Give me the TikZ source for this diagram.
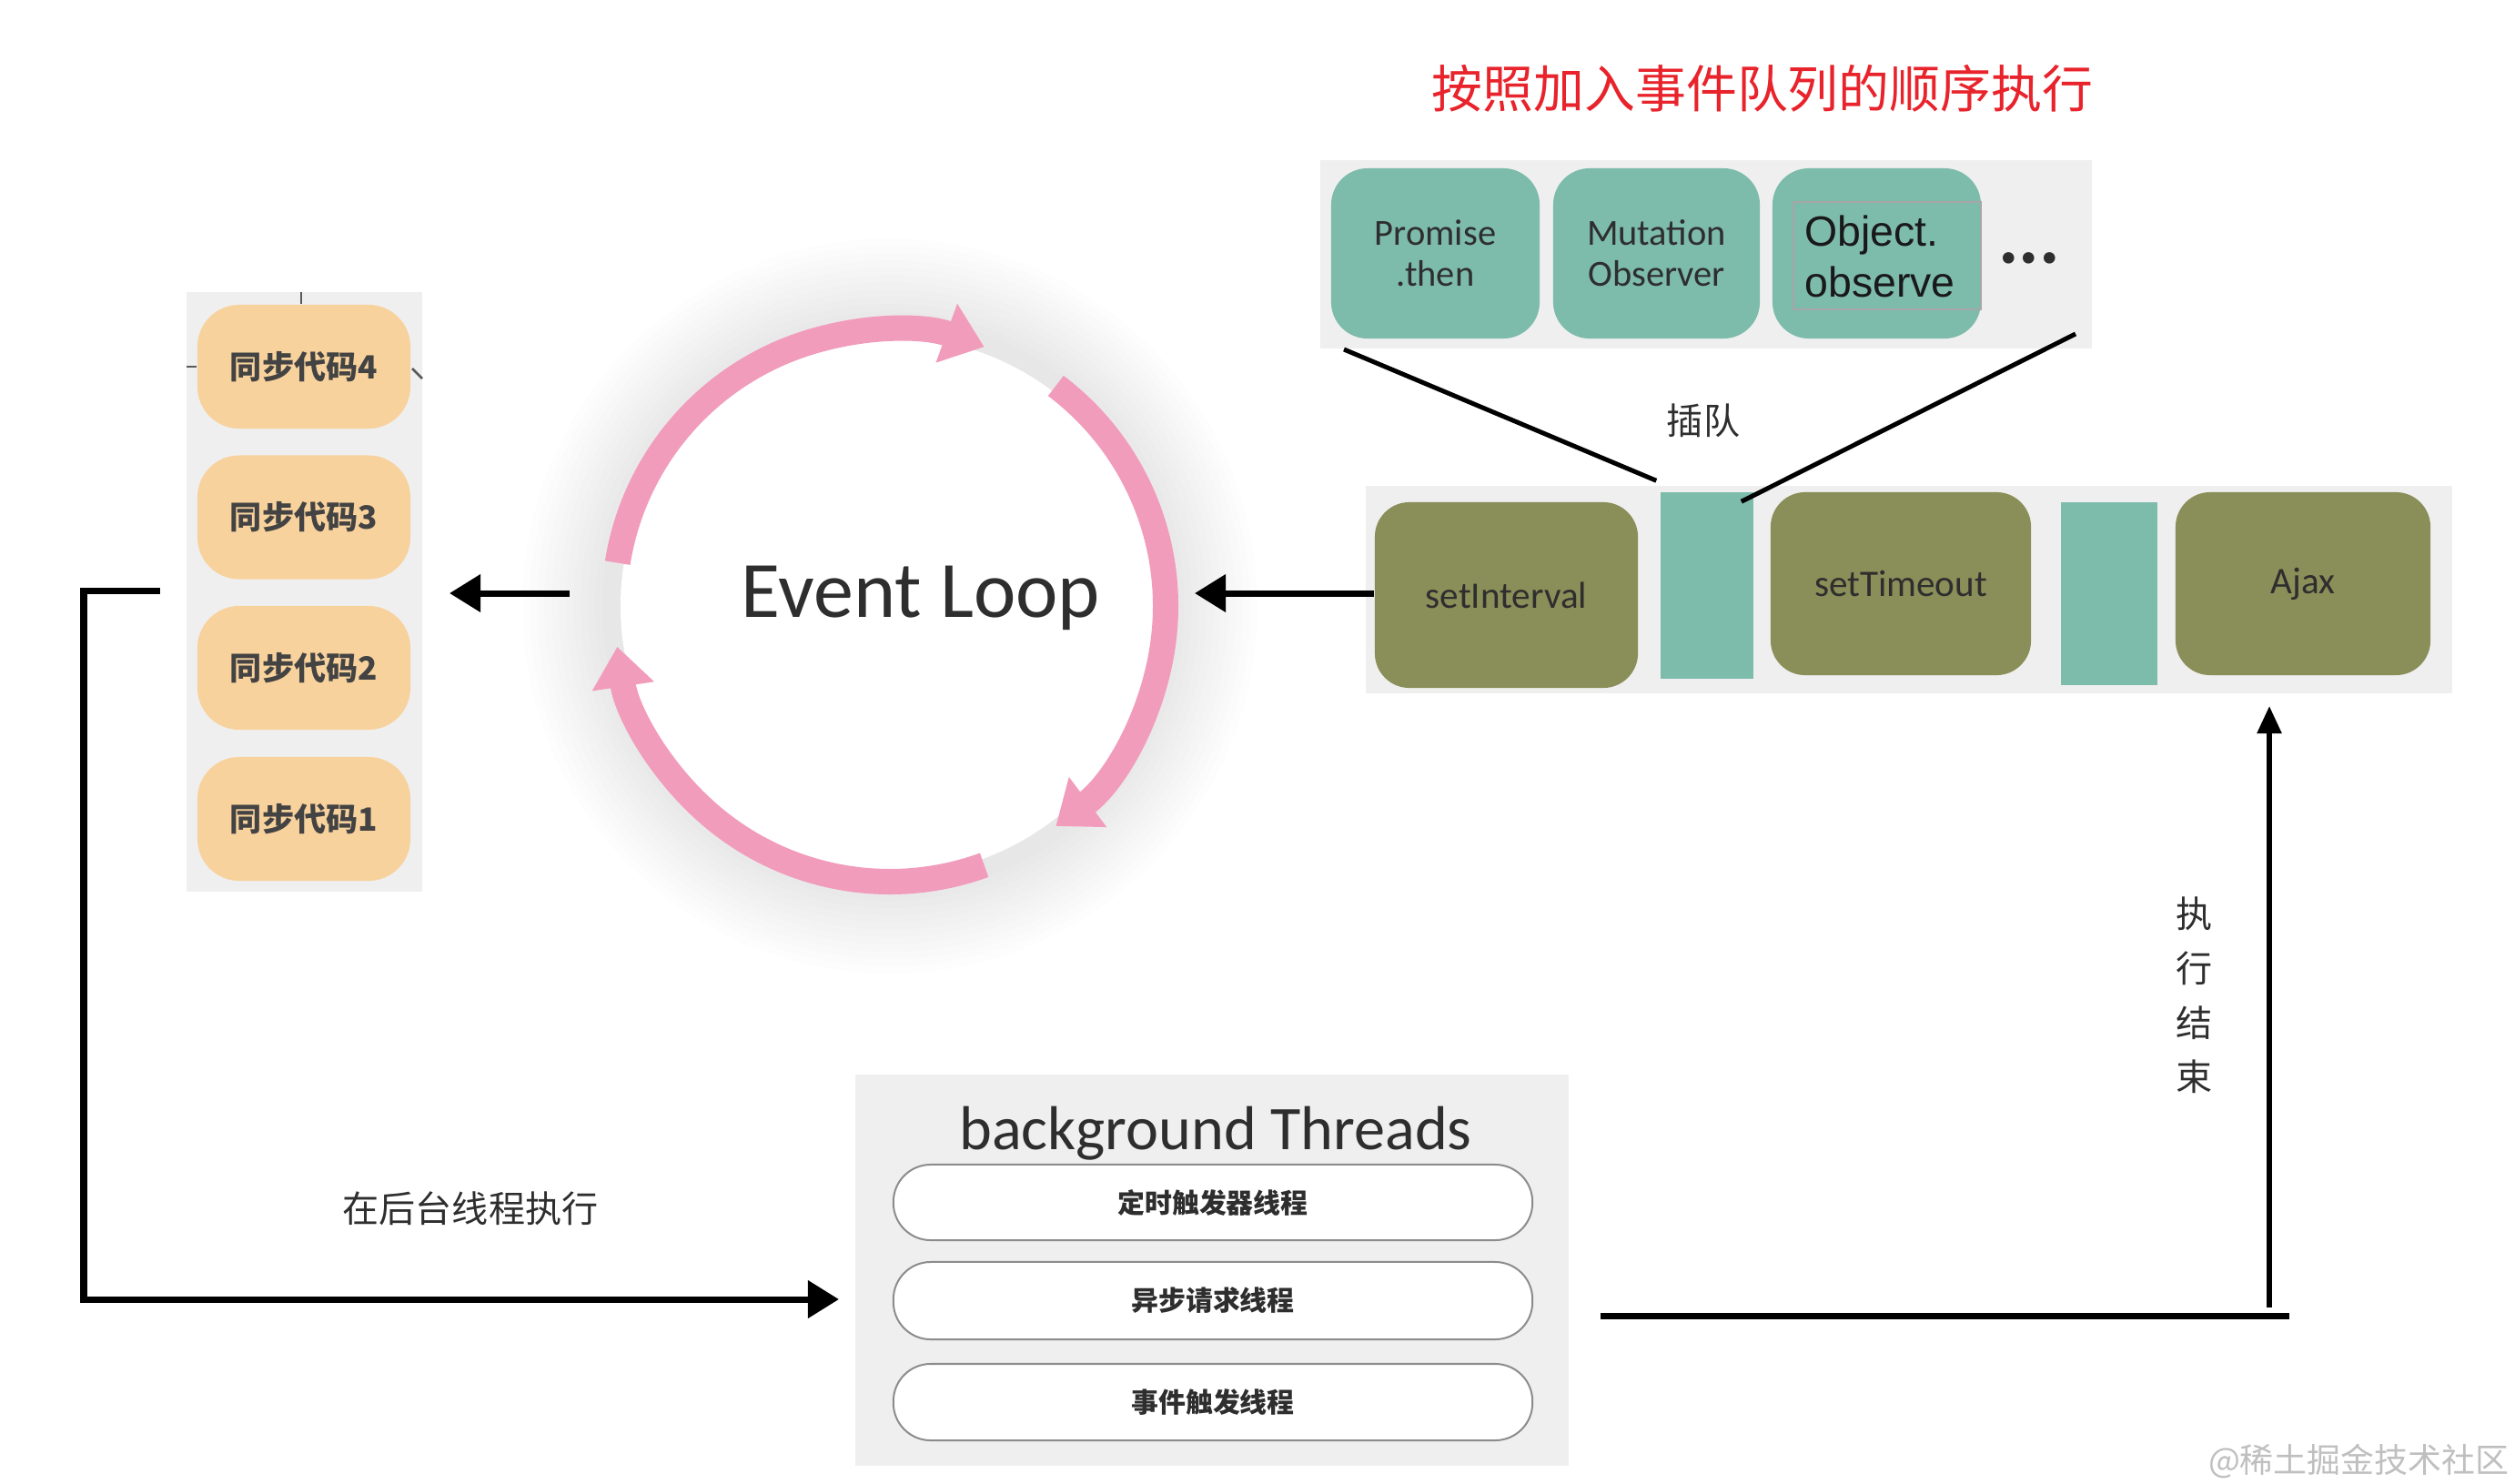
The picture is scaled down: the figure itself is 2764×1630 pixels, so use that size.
\documentclass[tikz,border=0pt]{standalone}
\usepackage{fontspec}
\setmainfont{Carlito}
\newfontfamily\cjk{Noto Sans CJK SC}
\newfontfamily\arialf{Liberation Sans}
\usetikzlibrary{arrows.meta,calc}
\definecolor{tealc}{HTML}{7DBBAB}
\definecolor{olivec}{HTML}{8A8E58}
\definecolor{orangec}{HTML}{F8D29D}
\definecolor{pinkc}{HTML}{F29CBC}
\definecolor{panelc}{HTML}{EFEFEF}
\definecolor{txtc}{HTML}{2E2E2E}
\definecolor{redc}{HTML}{E8232B}
\begin{document}
\begin{tikzpicture}[x=0.01cm,y=-0.01cm,
  panelbg/.style={fill=panelc, draw=none, inner sep=0pt},
  tealbox/.style={fill=tealc, rounded corners=0.4cm, inner sep=0pt, text=txtc, align=center, font=\fontsize{11.5}{12.8}\selectfont},
  slotbox/.style={fill=tealc, inner sep=0pt},
  olivebox/.style={fill=olivec, rounded corners=0.38cm, inner sep=0pt, text=txtc, font=\fontsize{11.7}{14}\selectfont},
  syncbox/.style={fill=orangec, rounded corners=0.46cm, inner sep=0pt, minimum width=2.34cm, minimum height=1.36cm, text=txtc!90, font=\cjk\bfseries\fontsize{10}{12}\selectfont},
  pill/.style={fill=white, draw=black!45, line width=0.02cm, rounded corners=0.41cm, inner sep=0pt, minimum width=7.02cm, text=txtc, font=\cjk\bfseries\fontsize{8.5}{10}\selectfont},
  looparc/.style={draw=pinkc, line width=0.28cm, -{Triangle[width=0.66cm,length=0.44cm]}},
  conn/.style={draw=black, line width=0.07cm, -{Triangle[width=0.40cm,length=0.34cm]}},
  plainline/.style={draw=black, line width=0.06cm},
  label/.style={inner sep=0pt, text=txtc, font=\cjk\fontsize{11.4}{17}\selectfont}
]
\useasboundingbox (0,0) rectangle (2764,1630);
\clip (0,0) rectangle (2764,1630);
\fill[white] (0,0) rectangle (2764,1630);

% ---------- Event loop ----------
\coordinate (c) at (978,666);
\foreach \r in {404,396,...,316} \fill[black,opacity=0.009] (c) circle[radius=\r];
\fill[white] (c) circle[radius=296];
\draw[looparc] ($(c)+(-171:303)$) arc[start angle=-171,end angle=-70,radius=303];
\draw[looparc] ($(c)+(-53:303)$) arc[start angle=-53,end angle=53,radius=303];
\draw[looparc] ($(c)+(70:303)$) arc[start angle=70,end angle=171.5,radius=303];
\node[fill=white, inner sep=0pt, minimum width=4.2cm, minimum height=1.5cm, text=txtc, font=\fontsize{25}{30}\selectfont] (el) at (1012,657) {Event Loop};

% ---------- sync stack ----------
\node[panelbg, minimum width=2.59cm, minimum height=6.59cm] (syncbg) at (334.5,650.5) {};
\node[syncbox] (s4) at (334,403) {同步代码4};
\node[syncbox] (s3) at (334,568.5) {同步代码3};
\node[syncbox] (s2) at (334,734) {同步代码2};
\node[syncbox] (s1) at (334,900) {同步代码1};
\draw[black!65, line width=0.02cm] (331,321) -- (331,334);
\draw[black!65, line width=0.02cm] (205,403) -- (216,403);
\draw[black!65, line width=0.025cm] (453,405) -- (464,416);

% ---------- micro task panel ----------
\node[text=redc, inner sep=0pt, font=\cjk\fontsize{15.9}{18}\selectfont] (title) at (1937,97) {按照加入事件队列的顺序执行};
\node[panelbg, minimum width=8.48cm, minimum height=2.07cm] (mbg) at (1875,279.5) {};
\node[tealbox, minimum width=2.29cm, minimum height=1.87cm] (pr) at (1577.5,278.5) {Promise\\.then};
\node[tealbox, minimum width=2.27cm, minimum height=1.87cm] (mo) at (1820.5,278.5) {Mutation\\Observer};
\node[tealbox, minimum width=2.29cm, minimum height=1.87cm] (ob) at (2062.5,278.5) {};
\draw[black!35, line width=0.02cm] (1971,222) rectangle (2177,340);
\node[align=left, inner sep=0pt, text=black!90, font=\arialf\fontsize{13.2}{16}\selectfont] (obt) at (2066,282) {Object.\\observe};
\node[inner sep=0pt, text=txtc, font=\bfseries\fontsize{24}{24}\selectfont] (dots) at (2230,284) {...};

% ---------- macro task row ----------
\node[panelbg, minimum width=11.94cm, minimum height=2.27cm] (rowbg) at (2098,648) {};
\node[olivebox, minimum width=2.89cm, minimum height=2.04cm] (si) at (1655.5,654) {setInterval};
\node[slotbox, minimum width=1.02cm, minimum height=2.05cm] (slot1) at (1876,643.5) {};
\node[olivebox, minimum width=2.86cm, minimum height=2.01cm] (st) at (2089,641.5) {setTimeout};
\node[slotbox, minimum width=1.06cm, minimum height=2.01cm] (slot2) at (2318,652.5) {};
\node[olivebox, minimum width=2.80cm, minimum height=2.01cm] (aj) at (2531,641.5) {Ajax};

% insertion lines
\coordinate (mpl) at (1477,384);
\coordinate (mpr) at (2281,367);
\draw[plainline, line width=0.05cm] (mpl) -- ($(slot1.north west)+(-4,-12)$);
\draw[plainline, line width=0.05cm] (mpr) -- ($(slot1.north east)+(-14,11)$);
\node[label] (cd) at (1872,462) {插队};

% ---------- connectors around loop ----------
\coordinate (looprt) at (1313,652);
\coordinate (looplf) at (626,652);
\coordinate (synctip) at (494,652);
\draw[conn] (si.west |- looprt) -- (looprt);
\draw[conn] (looplf) -- (synctip);

% ---------- background threads ----------
\node[panelbg, minimum width=7.84cm, minimum height=4.30cm] (bgp) at (1332,1396) {};
\node[inner sep=0pt, text=txtc, font=\fontsize{19.4}{22}\selectfont] (bgt) at (1336,1246) {background Threads};
\node[pill, minimum height=0.83cm] (p1) at (1333,1321.5) {定时触发器线程};
\node[pill, minimum height=0.85cm] (p2) at (1333,1429.5) {异步请求线程};
\node[pill, minimum height=0.84cm] (p3) at (1333,1541) {事件触发线程};

% left loop to background threads
\coordinate (lstart) at (176,649);
\coordinate (lend) at (922,1428);
\draw[conn] (lstart) -- (92,649) -- (92,1428) -- (lend);
\node[label] (bgl) at (517,1328) {在后台线程执行};

% return path to Ajax
\coordinate (rstart) at (1759,1446);
\coordinate (rend) at (2516,1446);
\draw[plainline, line width=0.07cm] (rstart) -- (rend);
\coordinate (ubot) at (2494,1437);
\coordinate (utip) at (2494,776);
\draw[draw=black, line width=0.055cm, -{Triangle[width=0.26cm,length=0.30cm]}] (ubot) -- (utip);
\node[label, align=center] (done) at (2412,1094) {执\\行\\结\\束};

% watermark
\node[anchor=south east, inner sep=0pt, text=black!25, font=\cjk\fontsize{10.5}{12}\selectfont] (wm) at (2758,1626) {@稀土掘金技术社区};
\end{tikzpicture}
\end{document}
